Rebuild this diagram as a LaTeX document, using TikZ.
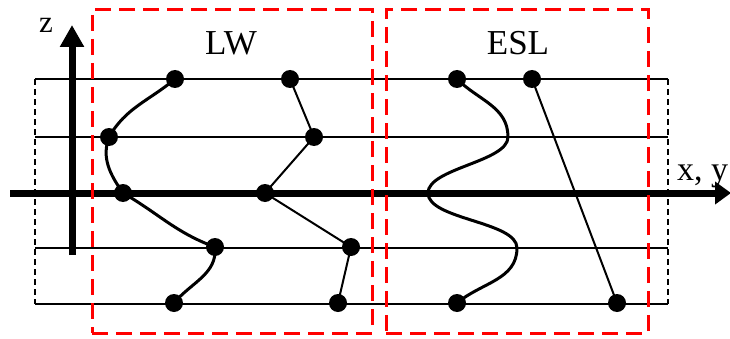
\documentclass[tikz,border=0pt]{standalone}
\usepackage{fontspec}
\setmainfont{Liberation Serif}
\usetikzlibrary{arrows.meta}
\begin{document}
\begin{tikzpicture}[x=1pt,y=1pt,
  dot/.style={circle,fill=black,inner sep=0pt,minimum size=18pt},
  gridline/.style={line width=2pt},
  regionbox/.style={draw=red,line width=3pt,dash pattern=on 16pt off 8pt,inner sep=0pt},
  sidedash/.style={line width=1.6pt,dash pattern=on 6pt off 4pt},
  axisline/.style={line width=7pt,-{Triangle[width=23pt,length=22pt]}},
  wave/.style={line width=3pt},
  zig/.style={line width=2pt},
  lab/.style={font=\fontsize{35}{40}\selectfont,inner sep=0pt}]
\useasboundingbox (0,0) rectangle (730,338);

% grid line ends
\coordinate (L1w) at (35,259); \coordinate (L1e) at (668,259);
\coordinate (L2w) at (35,201); \coordinate (L2e) at (668,201);
\coordinate (L4w) at (35,90);  \coordinate (L4e) at (668,90);
\coordinate (L5w) at (35,34);  \coordinate (L5e) at (668,34);

\draw[gridline] (L1w) -- (L1e);
\draw[gridline] (L2w) -- (L2e);
\draw[gridline] (L4w) -- (L4e);
\draw[gridline] (L5w) -- (L5e);
\draw[sidedash] (L1w) -- (L5w);
\draw[sidedash] (L1e) -- (L5e);

% axes
\coordinate (xs) at (10,145); \coordinate (xe) at (731,145);
\coordinate (zs) at (72,83);  \coordinate (ze) at (72,313);
\draw[axisline,-{Triangle[width=22pt,length=16pt]}] (xs) -- (xe);
\draw[axisline] (zs) -- (ze);
\node[font=\fontsize{31}{36}\selectfont,inner sep=0pt] (zl) at (46,313) {z};
\node[font=\fontsize{34}{40}\selectfont,inner sep=0pt,anchor=base west] (xl) at (677,158) {x, y};

% region boxes
\node[regionbox,minimum width=280pt,minimum height=323pt] (lwbox) at (232,166.5) {};
\node[regionbox,minimum width=262pt,minimum height=323pt] (eslbox) at (517,166.5) {};
\node[lab] (lw) at (231,295) {LW};
\node[lab] (esl) at (518,295) {ESL};

% LW dots
\node[dot] (a1) at (175,259) {};
\node[dot] (a2) at (109,201) {};
\node[dot] (a3) at (123,145) {};
\node[dot] (a4) at (215,91) {};
\node[dot] (a5) at (174,35) {};
\node[dot] (b1) at (290,259) {};
\node[dot] (b2) at (314,201) {};
\node[dot] (b3) at (265,145) {};
\node[dot] (b4) at (351,91) {};
\node[dot] (b5) at (338,35) {};
% ESL dots
\node[dot] (e1) at (457,259) {};
\node[dot] (e2) at (457,35) {};
\node[dot] (f1) at (532,259) {};
\node[dot] (f2) at (617,35) {};
\coordinate (p1) at (508,201);
\coordinate (p2) at (428,145);
\coordinate (p3) at (517,90);

% LW curve
\draw[wave] (a1.center) to[out=220,in=60] (a2.center)
  to[out=250,in=125] (a3.center)
  to[out=-30,in=160] (a4.center)
  to[out=-85,in=50] (a5.center);
% LW zigzag
\draw[zig] (b1.center) -- (b2.center) -- (b3.center) -- (b4.center) -- (b5.center);
% ESL curve
\draw[wave] (e1.center) to[out=-45,in=90] (p1)
  to[out=-90,in=90,looseness=0.65] (p2)
  to[out=-90,in=90,looseness=0.65] (p3)
  to[out=-90,in=40] (e2.center);
% ESL straight line
\draw[zig] (f1.center) -- (f2.center);
\end{tikzpicture}
\end{document}
